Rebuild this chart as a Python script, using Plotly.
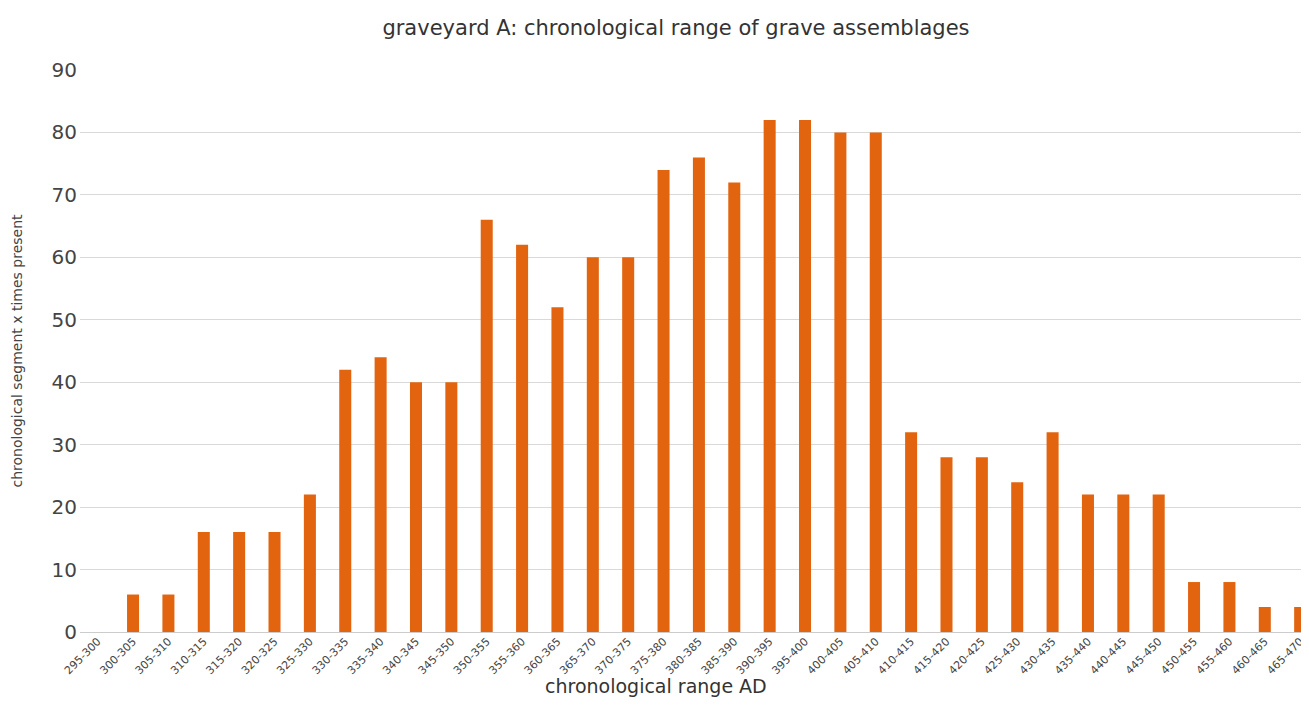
import plotly.graph_objects as go

categories = ["295-300","300-305","305-310","310-315","315-320","320-325","325-330","330-335","335-340",
              "340-345","345-350","350-355","355-360","360-365","365-370","370-375","375-380","380-385",
              "385-390","390-395","395-400","400-405","405-410","410-415","415-420","420-425","425-430",
              "430-435","435-440","440-445","445-450","450-455","455-460","460-465","465-470"]
values = [0, 6, 6, 16, 16, 16, 22, 42, 44, 40, 40, 66, 62, 52, 60, 60, 74, 76, 72, 82, 82, 80, 80,
          32, 28, 28, 24, 32, 22, 22, 22, 8, 8, 4, 4]
y_ticks = [0, 10, 20, 30, 40, 50, 60, 70, 80, 90]

fig = go.Figure(go.Bar(x=categories, y=values, marker=dict(color="#E2640F", line=dict(width=0))))

font = "DejaVu Sans"
W, H = 1301, 716
ml, mt, mb = 72, 62, 92
pw, ph = W - ml, H - mt - mb

fig.update_layout(
    width=W, height=H,
    margin=dict(l=ml, r=0, t=mt, b=mb),
    paper_bgcolor="white", plot_bgcolor="white",
    bargap=0.66,
    showlegend=False,
    font=dict(family=font, color="#333333"),
    title=dict(text="graveyard A: chronological range of grave assemblages",
               x=(676 - 8) / W, xref="container", xanchor="center", y=1 - 20 / H, yanchor="middle",
               font=dict(size=21, family=font, color="#333333")),
    annotations=[dict(text="chronological range AD", xref="paper", yref="paper",
                      x=(656 - 8 - ml) / pw, y=-(686 - 632) / ph, xanchor="center", yanchor="middle",
                      showarrow=False, font=dict(size=19, family=font, color="#333333"))],
)
fig.update_xaxes(
    type="category", range=[-0.5, 34.25],
    tickangle=-45, tickfont=dict(size=11, family=font, color="#444444"),
    showgrid=False, showline=False, ticks="",
)
fig.update_yaxes(
    range=[0, 90], tickvals=y_ticks,
    tickfont=dict(size=20, family=font, color="#444444"),
    showgrid=True, gridcolor="#d9d9d9", gridwidth=1,
    zeroline=True, zerolinecolor="#cccccc", zerolinewidth=1,
    ticks="", ticklabelstandoff=2,
    title=dict(text="chronological segment x times present", font=dict(size=14, family=font, color="#444444"), standoff=25),
)

fig.write_html("out.html")
